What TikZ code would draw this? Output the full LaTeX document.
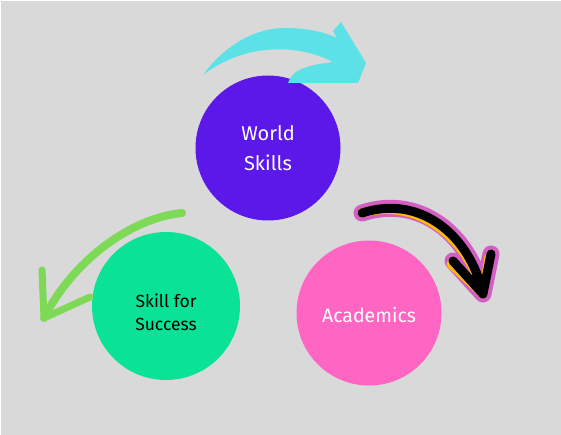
\documentclass[tikz,border=0pt]{standalone}
\usepackage{fontspec}
\setmainfont{Fira Sans}
\definecolor{bggray}{HTML}{D9D9D9}
\definecolor{wsviolet}{HTML}{5C17E9}
\definecolor{sfsgreen}{HTML}{0AE296}
\definecolor{acpink}{HTML}{FF66C4}
\definecolor{brushcyan}{HTML}{5CE1E6}
\definecolor{brushgreen}{HTML}{7ED957}
\definecolor{markyellow}{HTML}{FFBD00}
\definecolor{markmagenta}{HTML}{D35FC2}
\tikzset{
  bubble/.style={circle, inner sep=0pt, minimum size=#1, align=center},
  caption/.style={inner sep=0pt, align=center},
  brushline/.style={line cap=round, line join=round},
}
\begin{document}
\begin{tikzpicture}[x=1pt, y=-1pt]
  % canvas
  \fill[white] (0,0) rectangle (561,435);
  \fill[bggray] (1.2,1.2) rectangle (561,435);
  \useasboundingbox (0,0) rectangle (561,435);

  % circles
  \node[bubble=145pt, fill=wsviolet] (world) at (268,148) {};
  \node[bubble=148pt, fill=sfsgreen] (success) at (166,306) {};
  \node[bubble=145pt, fill=acpink] (academics) at (369,313) {};

  % captions (yshift is in page points, so negative moves down)
  \node[caption, text=white, font=\fontsize{20}{30}\selectfont]
    (worldtxt) at (world.center) {World\\Skills};
  \node[caption, text=black, font=\fontsize{17.5}{23}\selectfont]
    (successtxt) at ([yshift=-6pt]success.center) {Skill for\\Success};
  \node[caption, text=white, font=\fontsize{19.5}{22}\selectfont]
    (academicstxt) at ([yshift=-2pt]academics.center) {Academics};

  % cyan brush arrow over the top circle
  \fill[brushcyan]
    (203,75) .. controls (225,45) and (255,28) .. (285,28)
    .. controls (310,28) and (326,33) .. (337,38)
    -- (333,31) -- (341,22) -- (366,63) -- (358,83) -- (288,83)
    .. controls (292,72) and (300,66) .. (333,62)
    .. controls (300,45) and (250,42) .. (207,72) -- cycle;

  % green brush arrow to the left circle
  \draw[brushgreen, brushline, line width=8pt]
    (182,213) .. controls (130,218) and (72,262) .. (44,318);
  \draw[brushgreen, brushline, line width=7pt]
    (42,270) -- (44,318) -- (90,297);

  % highlighted marker arrow towards the right circle
  \coordinate (mk0) at (362,213);
  \coordinate (mk1) at (483,294);
  \draw[markmagenta, brushline, line width=17pt]
    (mk0) .. controls (420,194) and (470,235) .. (mk1)
    (453,261) -- (mk1) -- (491,254);
  \begin{scope}[shift={(-2,3)}]
    \draw[markyellow, brushline, line width=9pt]
      (mk0) .. controls (420,194) and (470,235) .. (mk1)
      (453,261) -- (mk1) -- (491,254);
  \end{scope}
  \draw[black, brushline, line width=9pt]
    (mk0) .. controls (420,194) and (470,235) .. (mk1)
    (453,261) -- (mk1) -- (491,254);
\end{tikzpicture}
\end{document}
